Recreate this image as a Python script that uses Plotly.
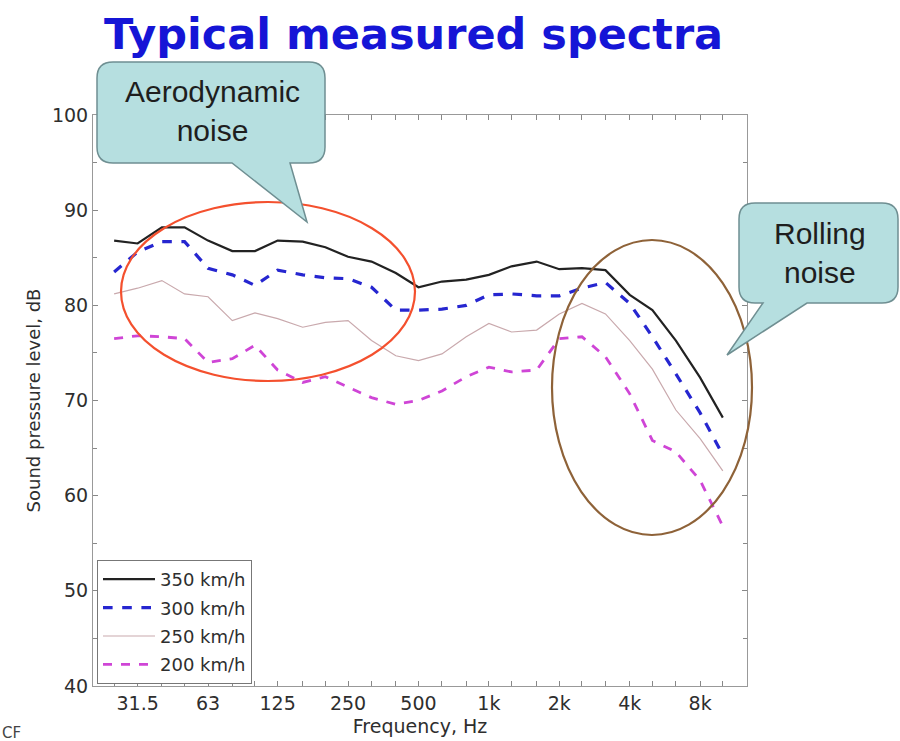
import plotly.graph_objects as go

# One-third-octave band centre frequencies, Hz
freqs = [25, 31.5, 40, 50, 63, 80, 100, 125, 160, 200, 250, 315, 400, 500,
         630, 800, 1000, 1250, 1600, 2000, 2500, 3150, 4000, 5000, 6300, 8000, 10000]

# Sound pressure level per band, dB
spl_350 = [86.8, 86.5, 88.2, 88.2, 86.8, 85.7, 85.7, 86.8, 86.7, 86.1, 85.1, 84.6, 83.4, 81.9,
           82.5, 82.7, 83.2, 84.1, 84.6, 83.8, 83.9, 83.7, 81.1, 79.5, 76.3, 72.4, 68.2]
spl_300 = [83.5, 85.6, 86.7, 86.7, 83.9, 83.2, 82.1, 83.7, 83.2, 82.9, 82.8, 81.9, 79.5, 79.5,
           79.6, 80.0, 81.1, 81.2, 81.0, 81.0, 81.8, 82.4, 80.2, 76.7, 72.8, 68.7, 64.3]
spl_250 = [81.2, 81.8, 82.6, 81.2, 80.9, 78.4, 79.2, 78.6, 77.7, 78.2, 78.4, 76.3, 74.7, 74.2,
           74.9, 76.7, 78.1, 77.2, 77.4, 79.1, 80.2, 79.1, 76.3, 73.3, 69.0, 66.0, 62.6]
spl_200 = [76.5, 76.8, 76.7, 76.5, 74.0, 74.4, 75.8, 73.2, 71.9, 72.5, 71.4, 70.3, 69.6, 70.0,
           71.0, 72.5, 73.5, 73.0, 73.2, 76.5, 76.7, 74.6, 70.7, 65.8, 64.6, 61.6, 56.8]

series_names = ["350 km/h", "300 km/h", "250 km/h", "200 km/h"]

tick_freqs = freqs
tick_labels = {31.5: "31.5", 63: "63", 125: "125", 250: "250", 500: "500",
               1000: "1k", 2000: "2k", 4000: "4k", 8000: "8k"}

W, H = 900, 741
L, R, T, B = 93, 747, 115, 686  # plot area in pixels

AXIS_FONT = "DejaVu Sans"
TEXT_COLOR = "#2e2e2e"


def px(x):
    return (x - L) / (R - L)


def py(y):
    return (B - y) / (B - T)


def bubble_path(x0, y0, x1, y1, r, base_a, base_b, tip):
    """Rounded-rectangle speech bubble with a tail on its bottom edge (pixel coords)."""
    pts = [
        f"M {px(x0 + r)},{py(y0)}",
        f"L {px(x1 - r)},{py(y0)}",
        f"Q {px(x1)},{py(y0)} {px(x1)},{py(y0 + r)}",
        f"L {px(x1)},{py(y1 - r)}",
        f"Q {px(x1)},{py(y1)} {px(x1 - r)},{py(y1)}",
        f"L {px(base_b)},{py(y1)}",
        f"L {px(tip[0])},{py(tip[1])}",
        f"L {px(base_a)},{py(y1)}",
        f"L {px(x0 + r)},{py(y1)}",
        f"Q {px(x0)},{py(y1)} {px(x0)},{py(y1 - r)}",
        f"L {px(x0)},{py(y0 + r)}",
        f"Q {px(x0)},{py(y0)} {px(x0 + r)},{py(y0)}",
        "Z",
    ]
    return " ".join(pts)


fig = go.Figure()

styles = [
    dict(color="#222222", width=2.2, dash="solid"),
    dict(color="#2626d0", width=3.2, dash="dash"),
    dict(color="#c9a9ad", width=1.2, dash="solid"),
    dict(color="#cf45d6", width=2.8, dash="dash"),
]
for name, vals, st in zip(series_names, [spl_350, spl_300, spl_250, spl_200], styles):
    fig.add_trace(go.Scatter(
        x=freqs, y=vals, mode="lines", name=name,
        line=dict(color=st["color"], width=st["width"], dash=st["dash"]),
        legendgroup=name,
    ))

shapes = [
    # Aerodynamic noise region
    dict(type="circle", xref="paper", yref="paper",
         x0=px(121), x1=px(415), y0=py(381), y1=py(202),
         line=dict(color="#f4502e", width=2.2)),
    # Rolling noise region
    dict(type="circle", xref="paper", yref="paper",
         x0=px(552), x1=px(752), y0=py(535), y1=py(240),
         line=dict(color="#8e6238", width=2.2)),
    # Callout bubbles
    dict(type="path", xref="paper", yref="paper",
         path=bubble_path(97, 62, 325, 163, 16, 232, 290, (307, 222)),
         fillcolor="#b6dfe0", line=dict(color="#6f8f92", width=1.5), layer="above"),
    dict(type="path", xref="paper", yref="paper",
         path=bubble_path(739, 203, 898, 303, 16, 763, 807, (727, 355)),
         fillcolor="#b6dfe0", line=dict(color="#6f8f92", width=1.5), layer="above"),
]

annotations = [
    dict(text="<b>Typical measured spectra</b>", xref="paper", yref="paper",
         x=px(413), y=py(34), xanchor="center", yanchor="middle", showarrow=False,
         font=dict(family="DejaVu Sans", size=43, color="#1515d6")),
    dict(text="Aerodynamic<br>noise", xref="paper", yref="paper",
         x=px(212), y=py(111), xanchor="center", yanchor="middle", showarrow=False,
         font=dict(family="Liberation Sans", size=30, color="#1e1e1e")),
    dict(text="Rolling<br>noise", xref="paper", yref="paper",
         x=px(820), y=py(253), xanchor="center", yanchor="middle", showarrow=False,
         font=dict(family="Liberation Sans", size=30, color="#1e1e1e")),
    dict(text="CF", xref="paper", yref="paper",
         x=px(0), y=py(733), xanchor="left", yanchor="middle", showarrow=False,
         font=dict(family=AXIS_FONT, size=15, color="#444444")),
]

fig.update_layout(
    width=W, height=H,
    margin=dict(l=L, r=W - R, t=T, b=H - B, pad=0),
    paper_bgcolor="white", plot_bgcolor="white",
    font=dict(family=AXIS_FONT, size=19, color=TEXT_COLOR),
    showlegend=True,
    legend=dict(x=px(97), y=py(560), xanchor="left", yanchor="top",
                bgcolor="white", bordercolor="#777777", borderwidth=1,
                font=dict(family=AXIS_FONT, size=18, color=TEXT_COLOR),
                tracegroupgap=2, itemwidth=52),
    shapes=shapes,
    annotations=annotations,
)

fig.update_xaxes(
    type="log",
    range=[1.3076, 4.1034],
    automargin=False,
    tickmode="array",
    tickvals=tick_freqs,
    ticktext=[tick_labels.get(f, "") for f in tick_freqs],
    ticks="inside", ticklen=5, tickcolor="#888888",
    showline=True, linecolor="#999999", linewidth=1, mirror="allticks",
    showgrid=False, zeroline=False,
    tickfont=dict(family=AXIS_FONT, size=19, color=TEXT_COLOR),
    title=dict(text="Frequency, Hz", standoff=6,
               font=dict(family=AXIS_FONT, size=19, color=TEXT_COLOR)),
)
fig.update_yaxes(
    range=[40, 100],
    automargin=False,
    tickmode="linear", tick0=40, dtick=10,
    minor=dict(dtick=5, ticks="inside", ticklen=4, tickcolor="#888888"),
    ticks="inside", ticklen=5, tickcolor="#888888",
    showline=True, linecolor="#999999", linewidth=1, mirror="allticks",
    showgrid=False, zeroline=False,
    tickfont=dict(family=AXIS_FONT, size=19, color=TEXT_COLOR),
    title=dict(text="Sound pressure level, dB", standoff=6,
               font=dict(family=AXIS_FONT, size=18, color=TEXT_COLOR)),
)

fig.write_html("out.html")
